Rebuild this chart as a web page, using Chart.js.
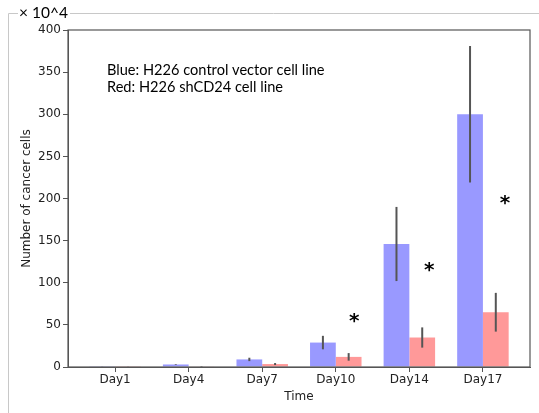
<!DOCTYPE html>
<html>
<head>
<meta charset="utf-8">
<script src="https://cdn.jsdelivr.net/npm/chart.js@4/dist/chart.umd.min.js"></script>
<style>
  html, body { margin: 0; padding: 0; background: #fff; }
  #wrap { width: 539px; height: 413px; position: relative; }
</style>
</head>
<body>
<div id="wrap"><canvas id="chart"></canvas></div>
<script>
// values are in units of 10^4 cells
const categories = ['Day1', 'Day4', 'Day7', 'Day10', 'Day14', 'Day17'];
const controlMeans = [0.3, 3, 9, 29, 146, 300];
const controlErrors = [0.1, 0.4, 2, 8, 44, 81];
const shMeans = [0.3, 0.5, 3.5, 12, 35, 65];
const shErrors = [0.1, 0.3, 1.2, 4.5, 12, 23];
// significance marks: x in category units, y in data units
const starX = [3.25, 4.27, 5.3];
const starY = [58, 119, 198];
const yTicks = [0, 50, 100, 150, 200, 250, 300, 350, 400];

const tickFont = { family: "'DejaVu Sans', sans-serif", size: 12 };
const noteFont = "14.6px Lato, 'Open Sans', sans-serif";

const toPoints = vals => vals.map((v, i) => ({ x: i, y: v }));

// outer frame, plot box, error bars, stars and notes
const decorations = {
  id: 'decorations',
  beforeDraw(chart) {
    const ctx = chart.ctx;
    ctx.save();
    ctx.strokeStyle = '#c8c8c8';
    ctx.lineWidth = 1;
    ctx.beginPath();
    ctx.moveTo(8.5, 413);
    ctx.lineTo(8.5, 13.5);
    ctx.lineTo(539, 13.5);
    ctx.stroke();
    ctx.font = "15.5px Lato, 'Open Sans', sans-serif";
    const label = '\u00d7 10^4';
    const w = ctx.measureText(label).width;
    ctx.fillStyle = '#fff';
    ctx.fillRect(18, 4, w + 3, 18);
    ctx.fillStyle = '#000';
    ctx.textBaseline = 'middle';
    ctx.fillText(label, 19, 13);
    ctx.restore();
  },
  afterDatasetsDraw(chart) {
    const ctx = chart.ctx;
    const y = chart.scales.y;
    const x = chart.scales.x;
    const errs = [controlErrors, shErrors];
    const means = [controlMeans, shMeans];
    ctx.save();
    ctx.strokeStyle = '#555';
    ctx.lineWidth = 2;
    chart.data.datasets.forEach((ds, d) => {
      chart.getDatasetMeta(d).data.forEach((bar, i) => {
        ctx.beginPath();
        ctx.moveTo(bar.x, y.getPixelForValue(means[d][i] - errs[d][i]));
        ctx.lineTo(bar.x, y.getPixelForValue(means[d][i] + errs[d][i]));
        ctx.stroke();
      });
    });
    const a = chart.chartArea;
    ctx.strokeStyle = '#555';
    ctx.lineWidth = 1.2;
    ctx.strokeRect(a.left, a.top, a.right - a.left, a.bottom - a.top);

    ctx.fillStyle = '#000';
    ctx.font = "bold 20px 'DejaVu Sans', sans-serif";
    ctx.textAlign = 'center';
    ctx.textBaseline = 'alphabetic';
    starX.forEach((sx, i) => {
      ctx.fillText('*', x.getPixelForValue(sx), y.getPixelForValue(starY[i]) + 9);
    });

    ctx.font = noteFont;
    ctx.textAlign = 'left';
    ctx.textBaseline = 'middle';
    ctx.fillText('Blue: H226 control vector cell line', 107, 70);
    ctx.fillText('Red: H226 shCD24 cell line', 107, 87);
    ctx.restore();
  }
};

new Chart(document.getElementById('chart'), {
  type: 'bar',
  data: {
    datasets: [
      { label: 'control', data: toPoints(controlMeans), backgroundColor: '#9999ff' },
      { label: 'shCD24', data: toPoints(shMeans), backgroundColor: '#ff9999' }
    ]
  },
  options: {
    responsive: true,
    maintainAspectRatio: false,
    animation: false,
    categoryPercentage: 0.7,
    barPercentage: 1.0,
    layout: { padding: { top: 30, right: 9, left: 0, bottom: 0 } },
    plugins: { legend: { display: false }, tooltip: { enabled: false } },
    scales: {
      x: {
        type: 'linear',
        min: -0.64,
        max: 5.64,
        offset: false,
        grid: { offset: false, drawOnChartArea: false, drawTicks: true, tickLength: 5, color: '#555' },
        border: { display: true, color: '#555' },
        afterBuildTicks: s => { s.ticks = categories.map((_, i) => ({ value: i })); },
        afterFit: s => { s.height = 46; },
        ticks: {
          autoSkip: false,
          maxRotation: 0,
          padding: 1,
          color: '#222',
          font: tickFont,
          callback: v => categories[v]
        },
        title: { display: true, text: 'Time', color: '#222', font: tickFont, padding: { top: 0, bottom: 9 } }
      },
      y: {
        min: 0,
        max: 400,
        afterBuildTicks: s => { s.ticks = yTicks.map(v => ({ value: v })); },
        afterFit: s => { s.width = 68; },
        grid: { drawOnChartArea: false, drawTicks: true, tickLength: 5, color: '#555' },
        border: { display: true, color: '#555' },
        ticks: { padding: 2, color: '#222', font: tickFont },
        title: { display: true, text: 'Number of cancer cells', color: '#222', font: tickFont, padding: { top: 20, bottom: 0 } }
      }
    }
  },
  plugins: [decorations]
});
</script>
</body>
</html>
